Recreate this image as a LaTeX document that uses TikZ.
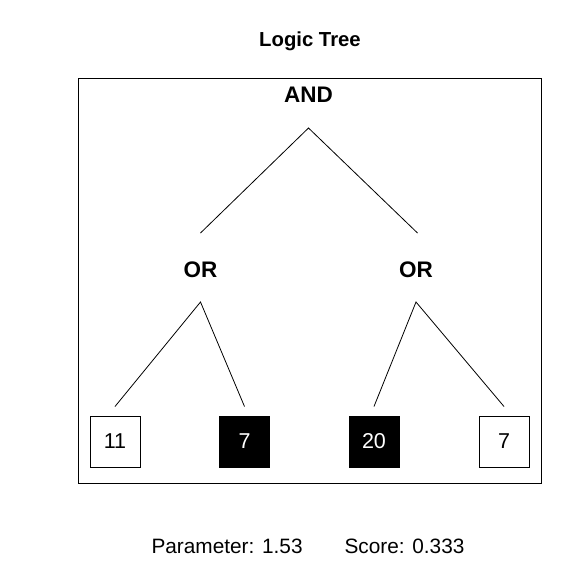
\documentclass[tikz,border=0pt]{standalone}
\usepackage{fontspec}
\setmainfont{Liberation Sans}
\usepackage{tikz}
\usetikzlibrary{positioning, calc}
\definecolor{ink}{HTML}{000000}

\tikzset{
  gate/.style={font=\bfseries\fontsize{22.5}{26}\selectfont, inner sep=0pt},
  leaf/.style={draw=ink, line width=1pt, minimum width=50pt, minimum height=51pt, inner sep=0pt, font=\fontsize{21.5}{24}\selectfont},
  leafon/.style={leaf, fill=ink, text=white},
  branch/.style={ink, line width=0.8pt}
}

\begin{document}
\begin{tikzpicture}[x=1pt, y=-1pt]
  % Canvas (pixel grid, y down)
  \useasboundingbox (0,0) rectangle (582,581);
  \fill[white] (0,0) rectangle (582,581);
  % Title and frame
  \node[font=\bfseries\fontsize{20.3}{24}\selectfont] (title) at (310,41) {Logic Tree};
  \draw[ink, line width=1pt] (78.5,78.5) rectangle (541.5,483.5);
  % Gates
  \node[gate] (and) at (308.5,95) {AND};
  \node[gate] (orL) at (200.5,270) {OR};
  \node[gate] (orR) at (416,270) {OR};
  % Leaves
  \node[leaf]   (leafA) at (115,441.5) {11};
  \node[leafon] (leafB) at (244.5,441.5) {7};
  \node[leafon] (leafC) at (374,441.5) {20};
  \node[leaf]   (leafD) at (504,441.5) {7};
  % Branches
  \coordinate (andfork) at ([yshift=-33pt]and.center);
  \coordinate (orLfork) at ([yshift=-32pt]orL.center);
  \coordinate (orRfork) at ([yshift=-32pt]orR.center);
  \draw[branch] ([yshift=37pt]orL.center) -- (andfork) -- ([yshift=37pt,xshift=1.5pt]orR.center);
  \draw[branch] ([yshift=9pt]leafA.north) -- (orLfork) -- ([yshift=9pt]leafB.north);
  \draw[branch] ([yshift=9pt]leafC.north) -- (orRfork) -- ([yshift=9pt]leafD.north);
  % Footer
  \node[font=\fontsize{20.8}{24}\selectfont, anchor=west] (param) at (148,546) {Parameter: 1.53};
  \node[font=\fontsize{20.8}{24}\selectfont, anchor=west] (score) at (341,546) {Score: 0.333};
\end{tikzpicture}
\end{document}
